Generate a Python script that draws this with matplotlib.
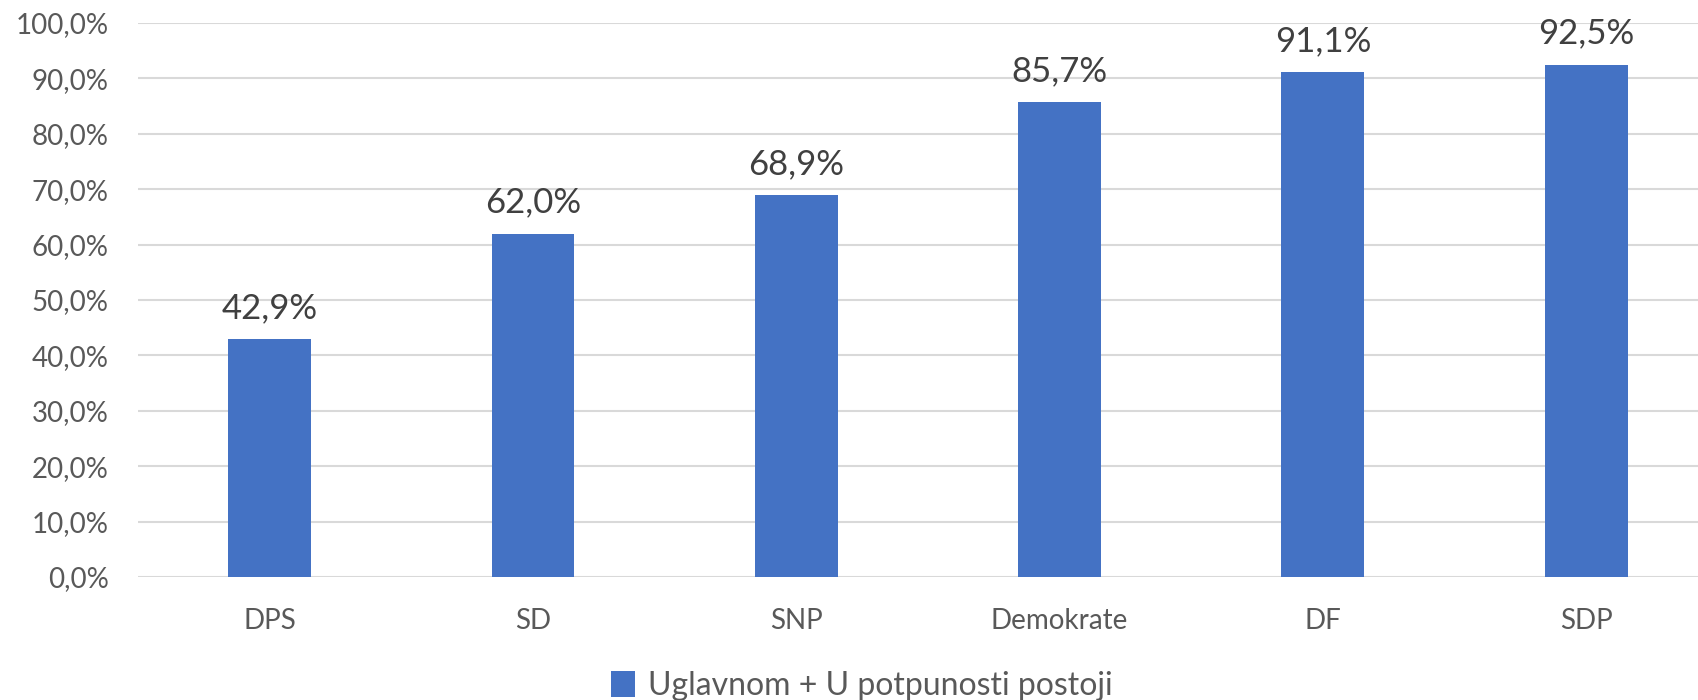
import matplotlib
matplotlib.use("Agg")
import matplotlib.pyplot as plt
from matplotlib.ticker import FuncFormatter, MultipleLocator
from matplotlib.patches import Patch

categories = ["DPS", "SD", "SNP", "Demokrate", "DF", "SDP"]
values = [42.9, 62.0, 68.9, 85.7, 91.1, 92.5]
series_name = "Uglavnom + U potpunosti postoji"

plt.rcParams['font.family'] = ['Lato', 'DejaVu Sans']

fig = plt.figure(figsize=(16.99, 7.0), dpi=100)
left = 138 / 1699
ax = fig.add_axes([left, 123 / 700, 1 - left, 554 / 700])

bar_color = "#4472C4"
x = list(range(len(categories)))
bars = ax.bar(x, values, width=0.315, color=bar_color, zorder=3)

ax.set_ylim(0, 100)
ax.set_xlim(-0.5, 5.428)
ax.yaxis.set_major_locator(MultipleLocator(10))
ax.yaxis.set_major_formatter(FuncFormatter(lambda v, p: f"{v:.1f}".replace(".", ",") + "%"))
ax.grid(axis="y", color="#D9D9D9", linewidth=1.5, zorder=0)
for s in ax.spines.values():
    s.set_visible(False)
ax.tick_params(axis="both", length=0, labelsize=20, labelcolor="#595959")
ax.tick_params(axis="y", pad=21)
ax.tick_params(axis="x", pad=22)
ax.set_xticks(x)
ax.set_xticklabels(categories)

for xi, v in zip(x, values):
    ax.annotate(f"{v:.1f}".replace(".", ",") + "%", (xi, v), xytext=(0, 15),
                textcoords="offset points", ha="center", va="baseline",
                fontsize=25, color="#404040", zorder=4)

handles = [Patch(facecolor=bar_color, label=series_name)]
fig.legend(handles=handles, loc="center", bbox_to_anchor=(862 / 1699, 1 - 686 / 700),
           frameon=False, fontsize=23, labelcolor="#595959", handlelength=0.75,
           handleheight=0.9, handletextpad=0.4)

fig.savefig("out.png", dpi=100)
